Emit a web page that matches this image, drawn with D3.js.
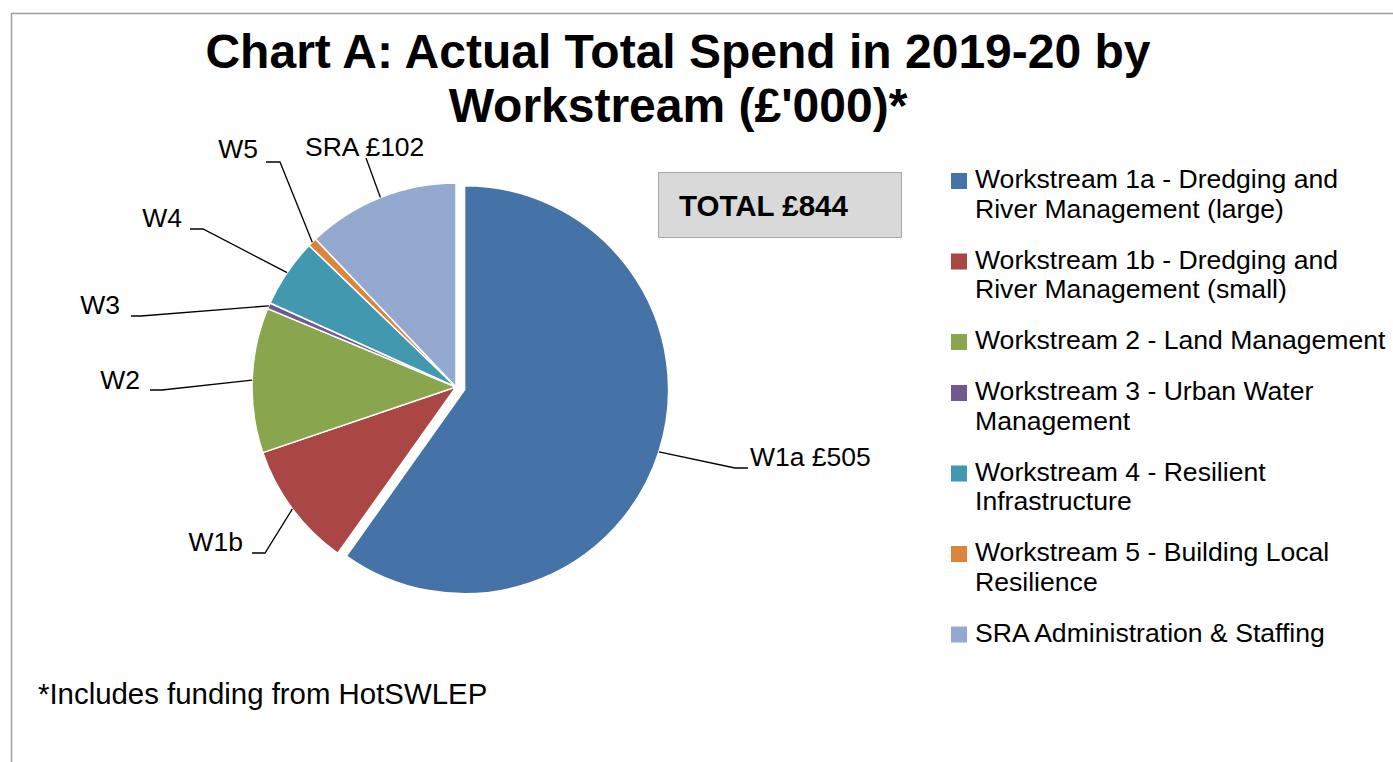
<!DOCTYPE html>
<html>
<head>
<meta charset="utf-8">
<script src="https://cdn.jsdelivr.net/npm/d3@7"></script>
<style>
  html, body { margin: 0; padding: 0; background: #fff; }
  svg { display: block; font-family: "Liberation Sans", Arial, sans-serif; }
</style>
</head>
<body>
<svg id="chart" width="1393" height="762"></svg>
<script>
// ---- Data ----
const categories = ["W1a", "W1b", "W2", "W3", "W4", "W5", "SRA"];
const values = [505, 84, 97, 4, 46, 6, 102];
const legendLabels = [
  ["Workstream 1a - Dredging and", "River Management (large)"],
  ["Workstream 1b - Dredging and", "River Management (small)"],
  ["Workstream 2 - Land Management"],
  ["Workstream 3 - Urban Water", "Management"],
  ["Workstream 4 - Resilient", "Infrastructure"],
  ["Workstream 5 - Building Local", "Resilience"],
  ["SRA Administration & Staffing"]
];
const sliceLabels = ["W1a £505", "W1b", "W2", "W3", "W4", "W5", "SRA £102"];
const colors = ["#4572A7", "#AA4643", "#89A54E", "#71588F", "#4198AF", "#DB843D", "#93A9CF"];
const titleLines = ["Chart A: Actual Total Spend in 2019-20 by", "Workstream (£'000)*"];
const totalText = "TOTAL £844";
const footnote = "*Includes funding from HotSWLEP";

// ---- Layout (positions of label text and leader elbows) ----
const labelLayout = [
  { tx: 750, ty: 466, anchor: "start", elbow: [735, 468], end: [748, 468] },
  { tx: 243, ty: 551, anchor: "end", elbow: [265, 553], end: [252, 553] },
  { tx: 140, ty: 389, anchor: "end", elbow: [162, 390], end: [150, 390] },
  { tx: 120, ty: 314, anchor: "end", elbow: [141, 316], end: [131, 316] },
  { tx: 182, ty: 227, anchor: "end", elbow: [203, 229], end: [190, 229] },
  { tx: 258, ty: 158, anchor: "end", elbow: [280, 162], end: [266, 162] },
  { tx: 305, ty: 156, anchor: "start", elbow: [366, 158], end: [366, 158] }
];

const svg = d3.select("#chart");
const W = 1393, H = 762;

// border
svg.append("rect")
  .attr("x", 11.5).attr("y", 13.5)
  .attr("width", W + 20).attr("height", H + 20)
  .attr("fill", "none").attr("stroke", "#a0a0a0").attr("stroke-width", 1.5);

// title
svg.append("g").selectAll("text").data(titleLines).join("text")
  .attr("x", 678).attr("y", (d, i) => 68 + i * 54)
  .attr("text-anchor", "middle")
  .attr("font-size", 48).attr("font-weight", "bold").attr("fill", "#000")
  .text(d => d);

// pie
const cx = 456, cy = 387, r = 204, explode = 9;
const pie = d3.pie().sort(null).value(d => d)(values);
const arc = d3.arc().innerRadius(0).outerRadius(r);

const gPie = svg.append("g").attr("transform", `translate(${cx},${cy})`);
gPie.selectAll("path").data(pie).join("path")
  .attr("d", arc)
  .attr("fill", (d, i) => colors[i])
  .attr("stroke", "#fff").attr("stroke-width", 1.5)
  .attr("transform", (d, i) => {
    if (i !== 0) return null;
    const m = (d.startAngle + d.endAngle) / 2;
    return `translate(${explode * Math.sin(m)},${-explode * Math.cos(m)})`;
  });

// leader lines and labels
pie.forEach((d, i) => {
  const m = (d.startAngle + d.endAngle) / 2;
  const off = i === 0 ? explode : 0;
  const sx = cx + (r + off) * Math.sin(m);
  const sy = cy - (r + off) * Math.cos(m);
  const L = labelLayout[i];
  svg.append("polyline")
    .attr("points", [[sx, sy], L.elbow, L.end].map(p => p.join(",")).join(" "))
    .attr("fill", "none").attr("stroke", "#000").attr("stroke-width", 1.3);
  svg.append("text")
    .attr("x", L.tx).attr("y", L.ty)
    .attr("text-anchor", L.anchor)
    .attr("font-size", 26.5).attr("fill", "#000")
    .text(sliceLabels[i]);
});

// total box
svg.append("rect")
  .attr("x", 658.5).attr("y", 172.5).attr("width", 243).attr("height", 65)
  .attr("fill", "#d9d9d9").attr("stroke", "#a6a6a6").attr("stroke-width", 1);
svg.append("text")
  .attr("x", 679).attr("y", 216)
  .attr("font-size", 29.5).attr("font-weight", "bold")
  .text(totalText);

// legend
const lineH = 29.5, gap = 21.5;
let y = 188;
const gLeg = svg.append("g");
legendLabels.forEach((lines, i) => {
  gLeg.append("rect")
    .attr("x", 951).attr("y", y - 15).attr("width", 16).attr("height", 16)
    .attr("fill", colors[i]);
  lines.forEach((t, j) => {
    gLeg.append("text")
      .attr("x", 975).attr("y", y + j * lineH)
      .attr("font-size", 26.6).attr("fill", "#000")
      .text(t);
  });
  y += lines.length * lineH + gap;
});

// footnote
svg.append("text")
  .attr("x", 38).attr("y", 704)
  .attr("font-size", 29.4).attr("fill", "#000")
  .text(footnote);
</script>
</body>
</html>
